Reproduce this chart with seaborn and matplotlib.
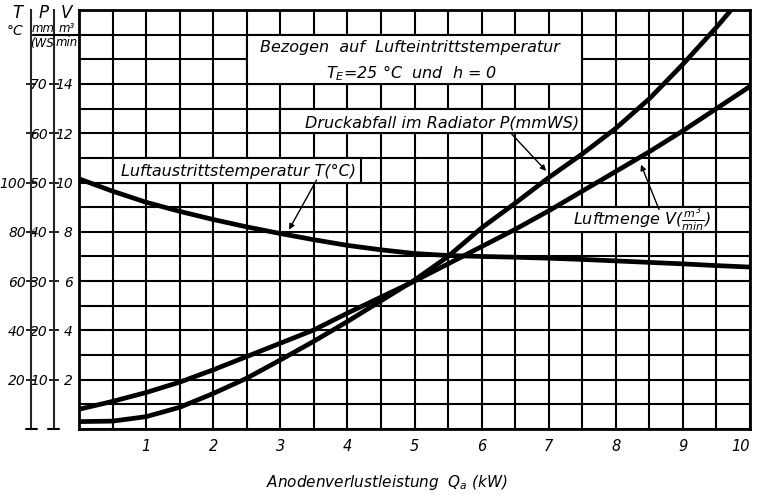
import numpy as np
import pandas as pd
import matplotlib
matplotlib.use("Agg")
import matplotlib.pyplot as plt
import seaborn as sns
from matplotlib.ticker import MultipleLocator
from matplotlib.patches import Rectangle
from matplotlib.lines import Line2D

# Anodenverlustleistung Qa (kW)
qa_kw = [0, 0.5, 1, 1.5, 2, 2.5, 3, 3.5, 4, 4.5, 5,
         5.5, 6, 6.5, 7, 7.5, 8, 8.5, 9, 9.5, 10]
# Luftaustrittstemperatur T (°C)
temp_c = [101.5, 96.5, 92.0, 88.3, 85.0, 82.0, 79.3, 76.8, 74.5, 72.7, 71.2,
          70.4, 70.0, 69.7, 69.3, 68.8, 68.2, 67.6, 67.0, 66.3, 65.7]
# Druckabfall im Radiator P (mmWS)
druck_mmws = [1.5, 1.6, 2.5, 4.4, 7.2, 10.3, 14.0, 17.8, 21.8, 26.0, 30.2,
              35.0, 40.8, 45.8, 51.0, 55.8, 61.0, 67.0, 74.0, 81.5, 89.5]
# Luftmenge V (m3/min)
luft_m3min = [0.8, 1.12, 1.48, 1.9, 2.4, 2.94, 3.48, 4.02, 4.7, 5.35, 6.0,
              6.7, 7.4, 8.1, 8.85, 9.65, 10.45, 11.25, 12.1, 13.0, 13.9]

# scales on the left, all tied to the V scale
v_ticks = [2, 4, 6, 8, 10, 12, 14]
p_ticks = [10, 20, 30, 40, 50, 60, 70]
t_ticks = [20, 40, 60, 80, 100, 120, 140]
t_labels = ["20", "40", "60", "80", "100", "", ""]
x_ticks = [1, 2, 3, 4, 5, 6, 7, 8, 9, 10]

sns.set_style("white")
plt.rcParams["font.family"] = ["DejaVu Sans"]
plt.rcParams["font.style"] = "italic"
plt.rcParams["mathtext.fontset"] = "dejavusans"
plt.rcParams["text.color"] = "black"
plt.rcParams["xtick.color"] = "black"
plt.rcParams["ytick.color"] = "black"
plt.rcParams["axes.labelcolor"] = "black"

W, H = 758, 495
fig = plt.figure(figsize=(W / 100, H / 100), dpi=100)
ax = fig.add_axes([79 / W, 1 - 429 / H, 671 / W, 419 / H])

# everything drawn on the V scale: T/10, P/5
df = pd.DataFrame({
    "Qa": qa_kw,
    "T": np.array(temp_c) / 10,
    "P": np.array(druck_mmws) / 5,
    "V": luft_m3min,
})
long = df.melt("Qa", var_name="kurve", value_name="wert")
sns.lineplot(data=long, x="Qa", y="wert", units="kurve", estimator=None,
             color="black", lw=3.4, ax=ax, zorder=5, legend=False)

ax.set_xlim(0, 10)
ax.set_ylim(0, 17)
ax.set_xticks(x_ticks)
ax.set_xticklabels([str(t) for t in x_ticks], fontsize=10.5)
ax.get_xticklabels()[-1].set_ha("right")
ax.xaxis.set_minor_locator(MultipleLocator(0.5))
ax.set_yticks(v_ticks)
ax.set_yticklabels([str(t) for t in v_ticks], fontsize=10)
ax.yaxis.set_minor_locator(MultipleLocator(1))
ax.grid(which="both", color="black", lw=1.5)
ax.set_axisbelow(True)
ax.tick_params(axis="x", which="both", length=0, pad=7)
ax.tick_params(axis="y", which="major", direction="inout", length=7, width=1.2, pad=1)
ax.tick_params(axis="y", which="minor", length=0)
ax.set_xlabel("")
ax.set_ylabel("")
for s in ax.spines.values():
    s.set_visible(True)
    s.set_color("black")
    s.set_linewidth(2)

# extra scales T and P
sec_p = ax.secondary_yaxis(-0.038, functions=(lambda v: v * 5, lambda p: p / 5))
sec_p.set_yticks(p_ticks)
sec_p.set_yticklabels([str(t) for t in p_ticks], fontsize=10)
sec_t = ax.secondary_yaxis(-0.071, functions=(lambda v: v * 10, lambda t: t / 10))
sec_t.set_yticks(t_ticks)
sec_t.set_yticklabels(t_labels, fontsize=10)
for sa in (sec_p, sec_t):
    sa.tick_params(direction="inout", length=7, width=1.2, pad=0.5)
    sa.spines["left"].set_linewidth(1.5)

# white label boxes covering the grid
for x0, y0, w, h in [(2.5, 14, 5.0, 2), (3.0, 12, 4.5, 1),
                     (0.5, 10, 3.7, 1), (7.0, 8, 2.5, 1)]:
    ax.add_patch(Rectangle((x0, y0), w, h, facecolor="white",
                           edgecolor="black", lw=1.5, zorder=3))

txt = dict(ha="center", va="center", fontsize=11.5, zorder=6)
ax.text(4.93, 15.47, "Bezogen  auf  Lufteintrittstemperatur", **txt)
ax.text(4.95, 14.45, r"$T_E$=25 °C  und  h = 0", **txt)
ax.text(5.41, 12.42, "Druckabfall im Radiator P(mmWS)", **txt)
ax.text(2.38, 10.45, "Luftaustrittstemperatur T(°C)", **txt)
ax.text(8.4, 8.5, r"Luftmenge V($\frac{m^3}{min}$)", **txt)

arrow = dict(arrowstyle="-|>", color="black", lw=1, mutation_scale=8)
ax.annotate("", xy=(3.11, 7.99), xytext=(3.56, 10.2), arrowprops=arrow, zorder=6)
ax.annotate("", xy=(6.99, 10.39), xytext=(6.42, 12.05), arrowprops=arrow, zorder=6)
ax.annotate("", xy=(8.36, 10.83), xytext=(8.66, 8.8), arrowprops=arrow, zorder=6)

fig.text(387 / W, 1 - 482 / H, r"Anodenverlustleistung  $Q_a$ (kW)",
         ha="center", va="center", fontsize=11)

# unit heads of the three scales
def ftext(px, py, s, size=11):
    fig.text(px / W, 1 - py / H, s, ha="center", va="center", fontsize=size)

ftext(17, 13, "T", 12)
ftext(15, 31, "°C", 10)
ftext(44, 13, "P", 12)
ftext(43, 28, "mm", 8.5)
ftext(42, 43, "(WS", 8.5)
ftext(66, 13, "V", 12)
ftext(67, 28, "m³", 8.5)
ftext(67, 43, "min", 8.5)
fig.add_artist(Line2D([33 / W, 79 / W], [1 - 35 / H, 1 - 35 / H], color="black", lw=1.5))
fig.add_artist(Line2D([26 / W, 37 / W], [1 - 429 / H, 1 - 429 / H], color="black", lw=1.5))
fig.add_artist(Line2D([48 / W, 59 / W], [1 - 429 / H, 1 - 429 / H], color="black", lw=1.5))

fig.savefig("out.png", dpi=100)
